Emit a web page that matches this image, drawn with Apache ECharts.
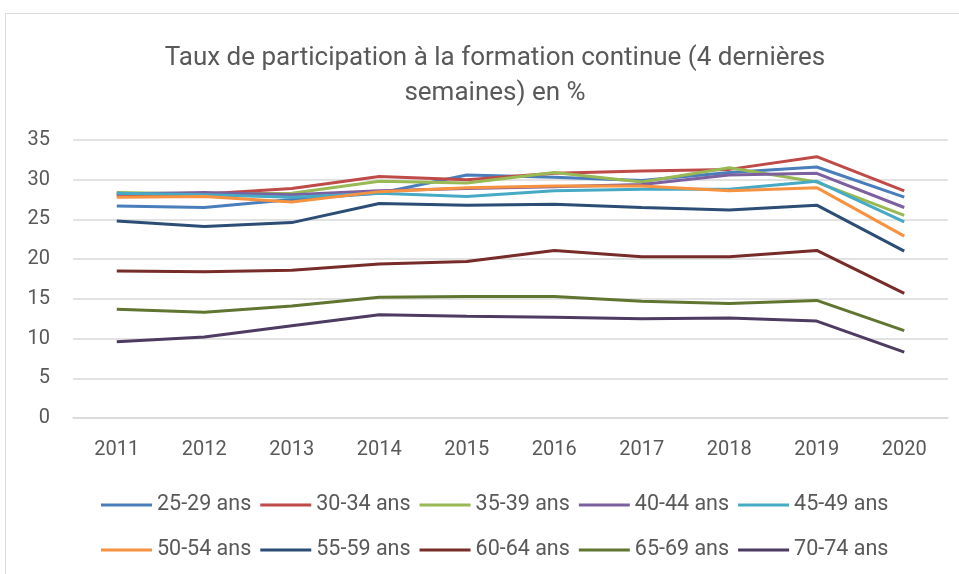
<!DOCTYPE html>
<html>
<head>
<meta charset="utf-8">
<script src="https://cdn.jsdelivr.net/npm/echarts@6/dist/echarts.min.js"></script>
<style>
  html, body { margin: 0; padding: 0; background: #fff; }
  #main { width: 959px; height: 574px; }
</style>
</head>
<body>
<div id="main"></div>
<script>
// données
var years = ['2011', '2012', '2013', '2014', '2015', '2016', '2017', '2018', '2019', '2020'];
var names = ['25-29 ans', '30-34 ans', '35-39 ans', '40-44 ans', '45-49 ans',
             '50-54 ans', '55-59 ans', '60-64 ans', '65-69 ans', '70-74 ans'];
var s2529 = [26.7, 26.5, 27.5, 28.3, 30.6, 30.3, 29.9, 30.9, 31.6, 27.8];
var s3034 = [28.0, 28.2, 28.9, 30.4, 30.0, 30.8, 31.1, 31.3, 32.9, 28.6];
var s3539 = [28.4, 28.2, 28.3, 29.8, 29.6, 30.9, 29.7, 31.5, 29.7, 25.5];
var s4044 = [28.2, 28.4, 28.1, 28.6, 28.9, 29.1, 29.4, 30.6, 30.8, 26.5];
var s4549 = [28.3, 28.1, 27.8, 28.3, 27.9, 28.6, 28.8, 28.8, 29.8, 24.7];
var s5054 = [27.8, 27.9, 27.2, 28.5, 29.0, 29.2, 29.2, 28.6, 29.0, 22.9];
var s5559 = [24.8, 24.1, 24.6, 27.0, 26.8, 26.9, 26.5, 26.2, 26.8, 21.0];
var s6064 = [18.5, 18.4, 18.6, 19.4, 19.7, 21.1, 20.3, 20.3, 21.1, 15.7];
var s6569 = [13.7, 13.3, 14.1, 15.2, 15.3, 15.3, 14.7, 14.4, 14.8, 11.0];
var s7074 = [9.6, 10.2, 11.6, 13.0, 12.8, 12.7, 12.5, 12.6, 12.2, 8.3];

var values = [s2529, s3034, s3539, s4044, s4549, s5054, s5559, s6064, s6569, s7074];
var colors = ['#4a7ebb', '#be4b48', '#98b954', '#7d60a0', '#46aac5',
              '#f69240', '#2c4d75', '#772c2a', '#5f7530', '#4d3b62'];

var font = 'Roboto, sans-serif';
var grey = '#595959';

var series = names.map(function (n, i) {
    return {
        name: n,
        type: 'line',
        data: values[i],
        showSymbol: false,
        symbol: 'none',
        lineStyle: { width: 3, color: colors[i] },
        itemStyle: { color: colors[i] }
    };
});

function legendRow(top, list) {
    return {
        top: top,
        left: 96,
        orient: 'horizontal',
        icon: 'rect',
        itemWidth: 51,
        itemHeight: 3,
        itemGap: 9,
        data: list,
        textStyle: { color: grey, fontSize: 21.5, fontFamily: font }
    };
}

var myChart = echarts.init(document.getElementById('main'));
myChart.setOption({
    animation: false,
    color: colors,
    title: {
        text: 'Taux de participation à la formation continue (4 dernières\nsemaines) en %',
        left: 490,
        top: 36,
        textAlign: 'center',
        textStyle: {
            color: grey,
            fontSize: 26,
            fontWeight: 'normal',
            fontFamily: font,
            lineHeight: 35
        }
    },
    graphic: [{
        type: 'rect',
        shape: { x: 5.5, y: 13.5, width: 1000, height: 1000 },
        style: { fill: 'none', stroke: '#d9d9d9', lineWidth: 1 },
        silent: true
    }],
    legend: [
        legendRow(489, names.slice(0, 5)),
        legendRow(534, names.slice(5))
    ],
    grid: { left: 73, right: 11, top: 140, bottom: 156 },
    xAxis: {
        type: 'category',
        data: years,
        boundaryGap: true,
        axisLine: { lineStyle: { color: '#d9d9d9', width: 1.5 } },
        axisTick: { show: false },
        axisLabel: { color: grey, fontSize: 20, fontFamily: font, margin: 22 }
    },
    yAxis: {
        type: 'value',
        min: 0,
        max: 35,
        interval: 5,
        axisLine: { show: false },
        axisTick: { show: false },
        axisLabel: { color: grey, fontSize: 20, fontFamily: font, margin: 23 },
        splitLine: { lineStyle: { color: '#d9d9d9', width: 1.5 } }
    },
    series: series
});
</script>
</body>
</html>
